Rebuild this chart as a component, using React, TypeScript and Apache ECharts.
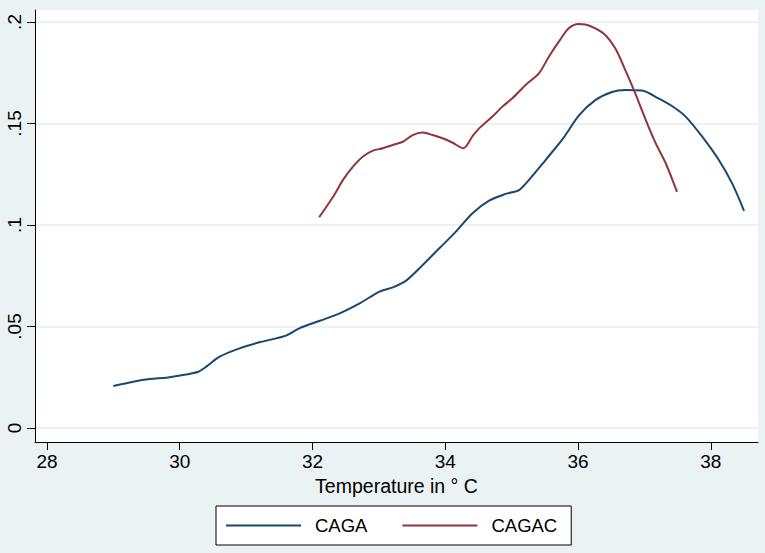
import React, { useEffect, useRef } from "react";
import * as echarts from "echarts";

const cagaTemp = [29.0, 29.3, 29.55, 29.8, 30.05, 30.28, 30.4, 30.6, 30.9, 31.2, 31.6, 31.8, 32.11, 32.41, 32.71, 33.01, 33.21, 33.41, 33.66, 33.91, 34.16, 34.41, 34.66, 34.91, 35.11, 35.26, 35.51, 35.76, 36.02, 36.26, 36.51, 36.71, 36.96, 37.21, 37.42, 37.62, 37.87, 38.12, 38.32, 38.5];
const cagaValue = [0.0207, 0.0228, 0.0241, 0.0248, 0.0261, 0.0277, 0.0302, 0.0351, 0.0392, 0.0422, 0.0455, 0.0491, 0.0528, 0.0565, 0.0614, 0.0672, 0.0693, 0.0726, 0.0803, 0.0885, 0.0967, 0.1058, 0.112, 0.1153, 0.1172, 0.1222, 0.132, 0.142, 0.1542, 0.1615, 0.1655, 0.1665, 0.1662, 0.1624, 0.1585, 0.1534, 0.1435, 0.132, 0.1205, 0.107];

const cagacTemp = [32.1, 32.31, 32.46, 32.61, 32.76, 32.91, 33.06, 33.21, 33.36, 33.51, 33.66, 33.81, 33.96, 34.11, 34.27, 34.41, 34.51, 34.71, 34.86, 35.01, 35.21, 35.41, 35.56, 35.71, 35.86, 36.01, 36.11, 36.26, 36.41, 36.56, 36.71, 36.86, 37.02, 37.17, 37.32, 37.49];
const cagacValue = [0.1038, 0.1139, 0.1222, 0.1287, 0.1337, 0.1366, 0.1378, 0.1394, 0.141, 0.1443, 0.1455, 0.1443, 0.1427, 0.1405, 0.1378, 0.1438, 0.1476, 0.1534, 0.1583, 0.1624, 0.169, 0.1747, 0.1829, 0.1903, 0.1969, 0.199, 0.1988, 0.1969, 0.1936, 0.187, 0.1764, 0.1649, 0.1517, 0.1402, 0.1304, 0.1163];

const xTicks = [28, 30, 32, 34, 36, 38];
const yTicks = [0, 0.05, 0.1, 0.15, 0.2];
const yTickLabels = ["0", ".05", ".1", ".15", ".2"];
const seriesNames = ["CAGA", "CAGAC"];
const xTitle = "Temperature in ° C";

const FONT = "'Liberation Sans', Arial, sans-serif";

export default function App() {
  const ref = useRef<HTMLDivElement>(null);
  useEffect(() => {
    if (!ref.current) return;
    const chart = echarts.init(ref.current, undefined, { renderer: "svg" });
    const pairs = (xs: number[], ys: number[]) => xs.map((x, i) => [x, ys[i]]);
    chart.setOption({
      animation: false,
      backgroundColor: "#eaf2f3",
      textStyle: { fontFamily: FONT },
      grid: {
        left: 35,
        right: 7,
        top: 10,
        bottom: 111,
        show: true,
        backgroundColor: "#ffffff",
        borderWidth: 0,
      },
      xAxis: {
        type: "value",
        min: 27.82,
        max: 38.71,
        name: xTitle,
        nameLocation: "middle",
        nameGap: 32,
        nameTextStyle: { color: "#000", fontSize: 19.5, fontFamily: FONT },
        axisLine: { show: true, onZero: false, lineStyle: { color: "#000", width: 1 } },
        axisTick: { show: true, length: 8, customValues: xTicks, lineStyle: { color: "#000" } },
        axisLabel: { customValues: xTicks, color: "#000", fontSize: 19, margin: 10, fontFamily: FONT },
        splitLine: { show: false },
      },
      yAxis: {
        type: "value",
        min: -0.0069,
        max: 0.2059,
        axisLine: { show: true, onZero: false, lineStyle: { color: "#000", width: 1 } },
        axisTick: { show: true, length: 8, customValues: yTicks, lineStyle: { color: "#000" } },
        axisLabel: {
          customValues: yTicks,
          rotate: 90,
          color: "#000",
          fontSize: 19,
          margin: 11,
          fontFamily: FONT,
          formatter: (v: number) => {
            const i = yTicks.findIndex((t) => Math.abs(t - v) < 1e-9);
            return i >= 0 ? yTickLabels[i] : "";
          },
        },
        splitLine: { show: true, lineStyle: { color: "#e6eef0", width: 1.5 } },
      },
      legend: {
        left: 216,
        top: 506,
        orient: "horizontal",
        backgroundColor: "#ffffff",
        borderColor: "#000",
        borderWidth: 1,
        borderRadius: 0,
        padding: [10, 14, 10, 10],
        icon: "rect",
        itemWidth: 75,
        itemHeight: 2,
        itemGap: 35,
        textStyle: { color: "#000", fontSize: 18.5, fontFamily: FONT, padding: [0, 0, 0, 9] },
        data: seriesNames,
      },
      series: [
        {
          name: seriesNames[0],
          type: "line",
          data: pairs(cagaTemp, cagaValue),
          showSymbol: false,
          symbol: "none",
          smooth: 0.3,
          lineStyle: { color: "#1a476f", width: 2 },
          itemStyle: { color: "#1a476f" },
        },
        {
          name: seriesNames[1],
          type: "line",
          data: pairs(cagacTemp, cagacValue),
          showSymbol: false,
          symbol: "none",
          smooth: 0.3,
          lineStyle: { color: "#90353b", width: 2 },
          itemStyle: { color: "#90353b" },
        },
      ],
    });
    return () => chart.dispose();
  }, []);
  return (
    <div
      ref={ref}
      style={{ position: "fixed", left: 0, top: 0, width: 765, height: 553 }}
    />
  );
}
